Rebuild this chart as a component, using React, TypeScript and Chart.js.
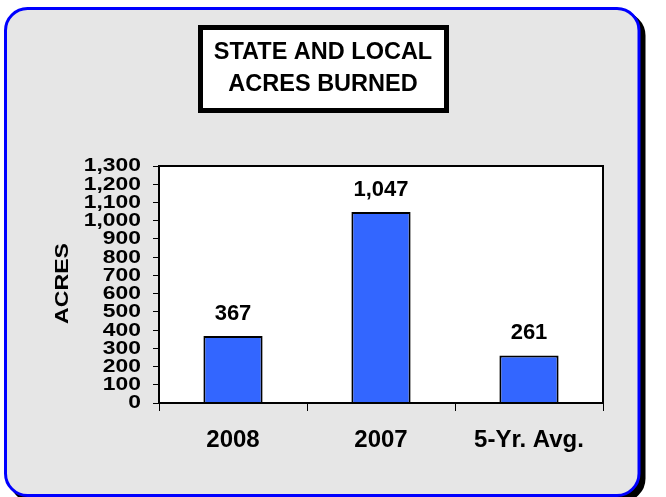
import React, { useEffect, useRef } from 'react';
import { Chart, registerables } from 'chart.js';

Chart.register(...registerables);

// ---- data ----
const categories = ['2008', '2007', '5-Yr. Avg.'];
const acres = [367, 1047, 261];
const yMin = 0;
const yMax = 1300;
const yStep = 100;
const titleLines = ['STATE AND LOCAL', 'ACRES BURNED'];
const yAxisTitle = 'ACRES';

const W = 666;
const H = 497;
const ARIAL = '"Liberation Sans", Arial, sans-serif';

function roundRectPath(ctx: CanvasRenderingContext2D, x: number, y: number, w: number, h: number, r: number) {
  ctx.beginPath();
  ctx.moveTo(x + r, y);
  ctx.lineTo(x + w - r, y);
  ctx.arcTo(x + w, y, x + w, y + r, r);
  ctx.lineTo(x + w, y + h - r);
  ctx.arcTo(x + w, y + h, x + w - r, y + h, r);
  ctx.lineTo(x + r, y + h);
  ctx.arcTo(x, y + h, x, y + h - r, r);
  ctx.lineTo(x, y + r);
  ctx.arcTo(x, y, x + r, y, r);
  ctx.closePath();
}

const decorPlugin = {
  id: 'decor',
  beforeDraw(chart: any) {
    const ctx: CanvasRenderingContext2D = chart.ctx;
    const ca = chart.chartArea;
    ctx.save();
    ctx.fillStyle = '#ffffff';
    ctx.fillRect(0, 0, W, H);
    // shadow
    roundRectPath(ctx, 10.5, 13.5, 633.5, 487, 22);
    ctx.fillStyle = '#000000';
    ctx.fill();
    ctx.lineWidth = 3;
    ctx.strokeStyle = '#000000';
    ctx.stroke();
    // panel
    roundRectPath(ctx, 5.5, 8.5, 633.5, 487, 22);
    ctx.fillStyle = '#e6e6e6';
    ctx.fill();
    ctx.lineWidth = 3;
    ctx.strokeStyle = '#0000ff';
    ctx.stroke();
    // plot area
    ctx.fillStyle = '#ffffff';
    ctx.fillRect(ca.left, ca.top, ca.right - ca.left, ca.bottom - ca.top);
    // title box
    ctx.fillStyle = '#ffffff';
    ctx.fillRect(200.5, 27.5, 246, 83);
    ctx.lineWidth = 5;
    ctx.strokeStyle = '#000000';
    ctx.strokeRect(200.5, 27.5, 246, 83);
    ctx.fillStyle = '#000000';
    ctx.font = `bold 23.5px ${ARIAL}`;
    ctx.textAlign = 'center';
    ctx.textBaseline = 'alphabetic';
    ctx.fillText(titleLines[0], 323, 59);
    ctx.fillText(titleLines[1], 323, 91);
    // y axis title
    ctx.save();
    ctx.translate(68, (ca.top + ca.bottom) / 2 - 1);
    ctx.rotate(-Math.PI / 2);
    ctx.scale(1.25, 1);
    ctx.font = `bold 18.5px ${ARIAL}`;
    ctx.textAlign = 'center';
    ctx.textBaseline = 'alphabetic';
    ctx.fillText(yAxisTitle, 0, 0);
    ctx.restore();
    ctx.restore();
  },
  afterDatasetsDraw(chart: any) {
    const ctx: CanvasRenderingContext2D = chart.ctx;
    const ca = chart.chartArea;
    ctx.save();
    ctx.lineWidth = 2;
    ctx.strokeStyle = '#000000';
    ctx.strokeRect(ca.left, ca.top, ca.right - ca.left, ca.bottom - ca.top);
    const meta = chart.getDatasetMeta(0);
    ctx.fillStyle = '#000000';
    ctx.font = `bold 22px ${ARIAL}`;
    ctx.textAlign = 'center';
    ctx.textBaseline = 'alphabetic';
    meta.data.forEach((bar: any, i: number) => {
      const v = chart.data.datasets[0].data[i] as number;
      ctx.fillText(v.toLocaleString('en-US'), bar.x, bar.y - 16);
    });
    ctx.restore();
  },
  afterDraw(chart: any) {
    // y tick labels (horizontally widened bold face, as in the reference)
    const ctx: CanvasRenderingContext2D = chart.ctx;
    const ys = chart.scales.y;
    ctx.save();
    ctx.fillStyle = '#000000';
    ctx.font = `bold 18px ${ARIAL}`;
    ctx.textAlign = 'right';
    ctx.textBaseline = 'middle';
    ys.ticks.forEach((t: any) => {
      const py = ys.getPixelForValue(t.value);
      ctx.save();
      ctx.translate(ys.right - 18, py + 0.5);
      ctx.scale(1.27, 1);
      ctx.fillText(String(t.label), 0, 0);
      ctx.restore();
    });
    ctx.restore();
  },
};

export default function App() {
  const canvasRef = useRef<HTMLCanvasElement | null>(null);

  useEffect(() => {
    const canvas = canvasRef.current;
    if (!canvas) return;
    const chart = new Chart(canvas, {
      type: 'bar',
      data: {
        labels: categories,
        datasets: [
          {
            data: acres,
            backgroundColor: '#3366ff',
            borderColor: '#000000',
            borderWidth: 2,
            barPercentage: 0.8,
            categoryPercentage: 0.5,
          },
        ],
      },
      options: {
        responsive: false,
        animation: false,
        devicePixelRatio: 1,
        layout: { padding: { top: 166, right: 63, bottom: 0, left: 0 } },
        plugins: {
          legend: { display: false },
          title: { display: false },
          tooltip: { enabled: false },
        },
        scales: {
          x: {
            offset: true,
            grid: {
              offset: true,
              drawOnChartArea: false,
              drawTicks: true,
              tickLength: 8,
              color: '#000000',
              lineWidth: 1,
            },
            border: { display: true, color: '#000000', width: 2 },
            ticks: {
              color: '#000000',
              padding: 15,
              maxRotation: 0,
              autoSkip: false,
              font: { family: ARIAL, weight: 'bold', size: 24 },
            },
            afterFit: (s: any) => {
              s.height = 94;
              s.paddingLeft = 0;
              s.paddingRight = 0;
            },
          },
          y: {
            min: yMin,
            max: yMax,
            grid: {
              drawOnChartArea: false,
              drawTicks: true,
              tickLength: 6,
              color: '#000000',
              lineWidth: 1,
            },
            border: { display: true, color: '#000000', width: 2 },
            ticks: {
              display: false,
              stepSize: yStep,
              autoSkip: false,
              callback: (v: any) => Number(v).toLocaleString('en-US'),
            },
            afterFit: (s: any) => {
              s.width = 159;
              s.paddingTop = 0;
              s.paddingBottom = 0;
            },
          },
        },
      },
      plugins: [decorPlugin],
    });
    return () => chart.destroy();
  }, []);

  return (
    <div style={{ position: 'fixed', left: 0, top: 0, width: W, height: H }}>
      <canvas ref={canvasRef} width={W} height={H} style={{ display: 'block', width: W, height: H }} />
    </div>
  );
}
